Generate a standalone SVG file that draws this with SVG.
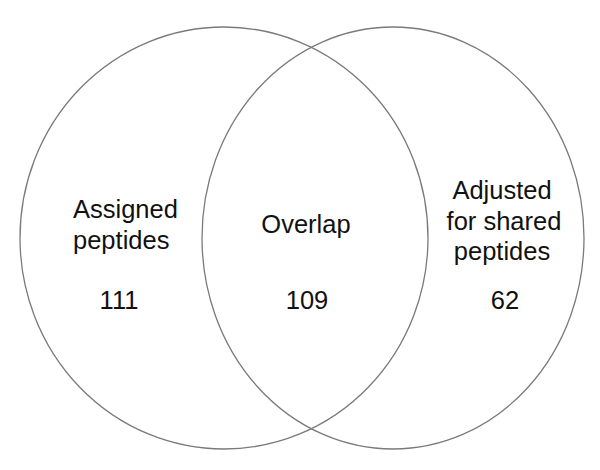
<svg xmlns="http://www.w3.org/2000/svg" width="600" height="470" viewBox="0 0 600 470">
<style>
.set{fill:none;stroke:#7a7a7a;stroke-width:1.3}
.t{font-family:"Liberation Sans",Arial,sans-serif;font-size:25.5px;fill:#111}
.c{text-anchor:middle}
</style>
<rect width="600" height="470" fill="#fff"/>
<g id="connectors"></g>
<g id="set-assigned">
<ellipse class="set" cx="224" cy="238" rx="204" ry="211"/>
<text class="t" x="73" y="218">Assigned</text>
<text class="t" x="73" y="249">peptides</text>
<text class="t c" x="119" y="309">111</text>
</g>
<g id="set-adjusted">
<ellipse class="set" cx="393" cy="238" rx="191" ry="211"/>
<text class="t c" x="502" y="199">Adjusted</text>
<text class="t c" x="504" y="230">for shared</text>
<text class="t c" x="502" y="260">peptides</text>
<text class="t c" x="505" y="309">62</text>
</g>
<g id="overlap">
<text class="t c" x="306" y="233">Overlap</text>
<text class="t c" x="307" y="309">109</text>
</g>
</svg>
